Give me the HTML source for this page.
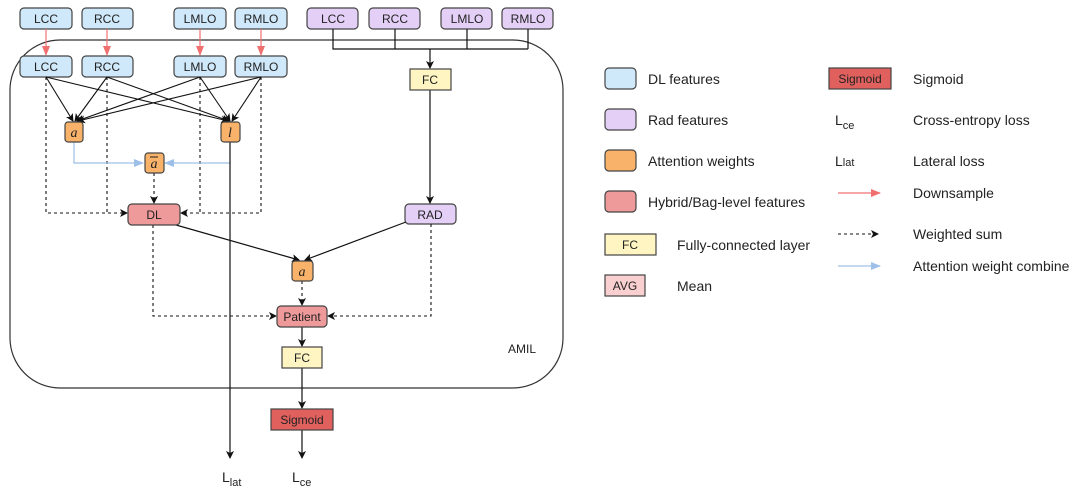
<!DOCTYPE html>
<html><head><meta charset="utf-8"><style>
body{margin:0;background:#fff}
svg text{font-family:"Liberation Sans",sans-serif;fill:#222}
</style></head><body>
<svg width="1080" height="491" viewBox="0 0 1080 491" xmlns="http://www.w3.org/2000/svg">
<defs>
<marker id="k" markerWidth="8" markerHeight="8" refX="7" refY="4" orient="auto" markerUnits="userSpaceOnUse"><path d="M0,0 L8,4 L0,8 L2,4 z" fill="#111"/></marker>
<marker id="r" markerWidth="10" markerHeight="8" refX="9" refY="4" orient="auto" markerUnits="userSpaceOnUse"><path d="M0,0 L10,4 L0,8 z" fill="#f07070"/></marker>
<marker id="b" markerWidth="10" markerHeight="8" refX="9" refY="4" orient="auto" markerUnits="userSpaceOnUse"><path d="M0,0 L10,4 L0,8 z" fill="#9dbfe8"/></marker>
</defs>
<!-- outer container -->
<path d="M60,40 H513 A50,50 0 0 1 563,90 V338 A50,50 0 0 1 513,388 H60 A50,50 0 0 1 10,338 V90 A50,50 0 0 1 60,40 Z" fill="none" stroke="#333" stroke-width="1.2"/>
<text x="508" y="353" font-size="12">AMIL</text>

<g font-size="12" text-anchor="middle" stroke-width="1.2">
<!-- top DL -->
<g fill="#cfe8fa" stroke="#444">
<rect x="20" y="8" width="52" height="21" rx="4"/><rect x="82" y="8" width="51" height="21" rx="4"/>
<rect x="174" y="8" width="52" height="21" rx="4"/><rect x="235" y="8" width="52" height="21" rx="4"/>
<rect x="20" y="56" width="52" height="21" rx="4"/><rect x="82" y="56" width="51" height="21" rx="4"/>
<rect x="174" y="56" width="52" height="21" rx="4"/><rect x="235" y="56" width="52" height="21" rx="4"/>
</g>
<text x="46" y="23">LCC</text><text x="107" y="23">RCC</text><text x="200" y="23">LMLO</text><text x="261" y="23">RMLO</text>
<text x="46" y="71">LCC</text><text x="107" y="71">RCC</text><text x="200" y="71">LMLO</text><text x="261" y="71">RMLO</text>
<!-- purple -->
<g fill="#e4d0f7" stroke="#444">
<rect x="307" y="8" width="51" height="21" rx="4"/><rect x="369" y="8" width="51" height="21" rx="4"/>
<rect x="441" y="8" width="51" height="21" rx="4"/><rect x="502" y="8" width="51" height="21" rx="4"/>
<rect x="405" y="204" width="51" height="20" rx="4"/>
</g>
<text x="333" y="23">LCC</text><text x="395" y="23">RCC</text><text x="467" y="23">LMLO</text><text x="528" y="23">RMLO</text>
<text x="430" y="219">RAD</text>
</g>

<!-- red downsample -->
<g stroke="#f07070" stroke-width="1.2" marker-end="url(#r)">
<line x1="46" y1="29" x2="46" y2="55"/><line x1="107" y1="29" x2="107" y2="55"/>
<line x1="200" y1="29" x2="200" y2="55"/><line x1="261" y1="29" x2="261" y2="55"/>
</g>
<!-- solid arrows to a and l -->
<g stroke="#111" stroke-width="1.1" marker-end="url(#k)">
<line x1="46" y1="77" x2="73" y2="121"/><line x1="107" y1="77" x2="75" y2="121"/>
<line x1="200" y1="77" x2="77" y2="121"/><line x1="261" y1="77" x2="78" y2="121"/>
<line x1="46" y1="77" x2="228" y2="121"/><line x1="107" y1="77" x2="229" y2="121"/>
<line x1="200" y1="77" x2="230" y2="121"/><line x1="261" y1="77" x2="232" y2="121"/>
</g>
<!-- dashed to DL -->
<g stroke="#111" stroke-width="1.1" fill="none" stroke-dasharray="3,3">
<polyline points="46,77 46,213 127,213" marker-end="url(#k)"/>
<polyline points="107,77 107,213"/>
<polyline points="261,77 261,213 181,213" marker-end="url(#k)"/>
<polyline points="200,77 200,213"/>
<line x1="154" y1="173" x2="154" y2="203" marker-end="url(#k)"/>
<polyline points="153,225 153,316 276,316" marker-end="url(#k)"/>
<polyline points="431,224 431,316 328,316" marker-end="url(#k)"/>
<line x1="302" y1="281" x2="302" y2="305" marker-end="url(#k)"/>
</g>
<!-- blue -->
<g stroke="#9dbfe8" stroke-width="1.2" fill="none" marker-end="url(#b)">
<polyline points="74,142 74,163 143,163"/>
<polyline points="230,163 165,163"/>
</g>
<!-- solid -->
<g stroke="#111" stroke-width="1.2" fill="none">
<line x1="230" y1="142" x2="230" y2="458" marker-end="url(#k)"/>
<line x1="176" y1="225" x2="299" y2="260" marker-end="url(#k)"/>
<line x1="406" y1="222" x2="305" y2="260" marker-end="url(#k)"/>
<polyline points="333,29 333,49 528,49"/><line x1="395" y1="29" x2="395" y2="49"/>
<line x1="467" y1="29" x2="467" y2="49"/><line x1="528" y1="29" x2="528" y2="49"/>
<line x1="430" y1="49" x2="430" y2="68" marker-end="url(#k)"/>
<line x1="430" y1="90" x2="430" y2="203" marker-end="url(#k)"/>
<line x1="302" y1="327" x2="302" y2="346" marker-end="url(#k)"/>
<line x1="302" y1="368" x2="302" y2="408" marker-end="url(#k)"/>
<line x1="302" y1="430" x2="302" y2="458" marker-end="url(#k)"/>
</g>

<!-- orange -->
<g fill="#f8b26a" stroke="#444" stroke-width="1.2">
<rect x="65" y="122" width="18" height="20" rx="3"/><rect x="221" y="122" width="19" height="20" rx="3"/>
<rect x="145" y="153" width="19" height="20" rx="3"/><rect x="292" y="261" width="21" height="20" rx="3"/>
</g>
<g font-family="Liberation Serif" font-style="italic" font-size="14" text-anchor="middle">
<text x="74" y="137" style="font-family:'Liberation Serif',serif">a</text>
<text x="230" y="137" style="font-family:'Liberation Serif',serif">l</text>
<text x="154" y="168" style="font-family:'Liberation Serif',serif">a</text>
<text x="302" y="276" style="font-family:'Liberation Serif',serif">a</text>
</g>
<line x1="150" y1="157" x2="158" y2="157" stroke="#222" stroke-width="1"/>

<g font-size="12" text-anchor="middle" stroke-width="1.2" stroke="#444">
<rect x="128" y="204" width="52" height="21" rx="4" fill="#ef9a9a"/>
<rect x="277" y="306" width="50" height="21" rx="4" fill="#ef9a9a"/>
<rect x="410" y="69" width="41" height="21" fill="#fff5c2"/>
<rect x="282" y="347" width="40" height="21" fill="#fff5c2"/>
<rect x="271" y="409" width="62" height="21" fill="#e0605e"/>
</g>
<g font-size="12" text-anchor="middle">
<text x="154" y="219">DL</text><text x="302" y="321">Patient</text>
<text x="430" y="84">FC</text><text x="302" y="362">FC</text><text x="302" y="424">Sigmoid</text>
</g>
<text x="222" y="482" font-size="14">L<tspan font-size="11" dy="4">lat</tspan></text>
<text x="292" y="482" font-size="14">L<tspan font-size="11" dy="4">ce</tspan></text>

<!-- legend -->
<g stroke="#444" stroke-width="1.2">
<rect x="605" y="68" width="31" height="21" rx="4" fill="#cfe8fa"/>
<rect x="605" y="109" width="31" height="21" rx="4" fill="#e4d0f7"/>
<rect x="605" y="150" width="31" height="21" rx="4" fill="#f8b26a"/>
<rect x="605" y="191" width="31" height="21" rx="4" fill="#ef9a9a"/>
<rect x="605" y="234" width="51" height="21" fill="#fff5c2"/>
<rect x="605" y="275" width="40" height="21" fill="#f9cfcf"/>
<rect x="829" y="68" width="62" height="21" fill="#e0605e"/>
</g>
<g font-size="12" text-anchor="middle">
<text x="630" y="249">FC</text><text x="625" y="290">AVG</text><text x="860" y="83">Sigmoid</text>
</g>
<g font-size="14">
<text x="648" y="84">DL features</text>
<text x="648" y="125">Rad features</text>
<text x="648" y="166">Attention weights</text>
<text x="648" y="207">Hybrid/Bag-level features</text>
<text x="677" y="250">Fully-connected layer</text>
<text x="677" y="291">Mean</text>
<text x="913" y="84">Sigmoid</text>
<text x="913" y="125">Cross-entropy loss</text>
<text x="913" y="166">Lateral loss</text>
<text x="913" y="198">Downsample</text>
<text x="913" y="239">Weighted sum</text>
<text x="913" y="271">Attention weight combine</text>
<text x="835" y="125">L<tspan font-size="11" dy="4">ce</tspan></text>
<text x="835" y="166">L<tspan font-size="11">lat</tspan></text>
</g>
<line x1="838" y1="193" x2="880" y2="193" stroke="#f07070" stroke-width="1.2" marker-end="url(#r)"/>
<line x1="838" y1="234" x2="878" y2="234" stroke="#111" stroke-width="1.1" stroke-dasharray="3,3" marker-end="url(#k)"/>
<line x1="838" y1="266" x2="880" y2="266" stroke="#9dbfe8" stroke-width="1.2" marker-end="url(#b)"/>
</svg>
</body></html>
